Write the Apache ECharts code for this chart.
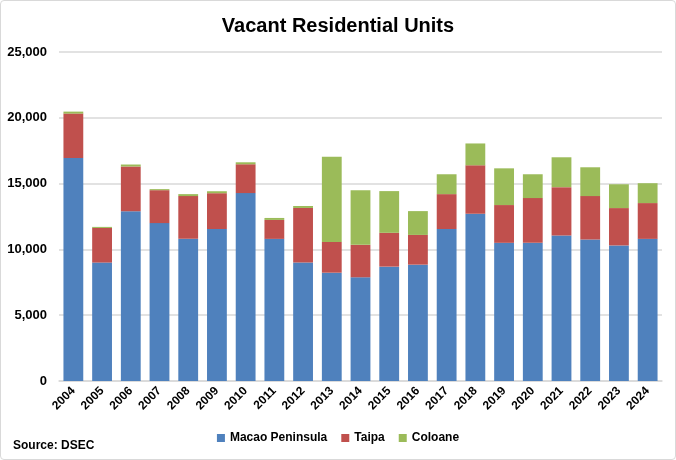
<!DOCTYPE html>
<html>
<head>
<meta charset="utf-8">
<script src="https://cdn.jsdelivr.net/npm/echarts@6/dist/echarts.min.js"></script>
<style>
  html, body { margin: 0; padding: 0; background: #fff; }
  #chart { width: 676px; height: 460px; box-sizing: border-box; border: 1px solid #d9d9d9; border-radius: 4px; }
</style>
</head>
<body>
<div id="chart"></div>
<script>
var years = ['2004', '2005', '2006', '2007', '2008', '2009', '2010', '2011', '2012', '2013', '2014',
    '2015', '2016', '2017', '2018', '2019', '2020', '2021', '2022', '2023', '2024'];
var macao = [16950, 9000, 12900, 12000, 10800, 11550, 14280, 10800, 9000, 8230, 7880,
    8690, 8840, 11550, 12710, 10500, 10500, 11050, 10750, 10300, 10800];
var taipa = [3370, 2630, 3400, 2500, 3250, 2720, 2190, 1440, 4150, 2340, 2470,
    2570, 2260, 2650, 3680, 2870, 3400, 3680, 3300, 2840, 2720];
var coloane = [150, 80, 150, 80, 150, 150, 150, 150, 150, 6470, 4150,
    3170, 1810, 1510, 1660, 2790, 1810, 2270, 2190, 1810, 1510];

var FONT = "'Liberation Sans', Arial, sans-serif";
var chart = echarts.init(document.getElementById('chart'));

function bar(name, data, color) {
    return {
        name: name,
        type: 'bar',
        stack: 'units',
        barWidth: '69%',
        itemStyle: { color: color },
        data: data
    };
}

chart.setOption({
    animation: false,
    textStyle: { fontFamily: FONT },
    title: {
        text: 'Vacant Residential Units',
        left: 'center',
        top: 10,
        textStyle: { fontSize: 20, fontWeight: 'bold', color: '#000', fontFamily: FONT }
    },
    graphic: [{
        type: 'text',
        left: 12,
        top: 439,
        style: { text: 'Source: DSEC', fontSize: 12, fontWeight: 'bold', fill: '#000', font: 'bold 12px ' + FONT }
    }],
    legend: {
        bottom: 10,
        left: 'center',
        itemWidth: 8,
        itemHeight: 8,
        itemGap: 14,
        icon: 'rect',
        textStyle: { fontSize: 12, fontWeight: 'bold', color: '#000', fontFamily: FONT }
    },
    grid: { left: 58, right: 13, top: 51, bottom: 78 },
    xAxis: {
        type: 'category',
        data: years,
        axisTick: { show: false },
        axisLine: { lineStyle: { color: '#d9d9d9', width: 1.5 } },
        axisLabel: { rotate: 45, fontSize: 12, fontWeight: 'bold', color: '#000', margin: 8, interval: 0 }
    },
    yAxis: {
        type: 'value',
        min: 0,
        max: 25000,
        interval: 5000,
        axisLine: { show: false },
        axisTick: { show: false },
        splitLine: { lineStyle: { color: '#d9d9d9', width: 1.5 } },
        axisLabel: {
            fontSize: 13, fontWeight: 'bold', color: '#000', margin: 12,
            formatter: function(v) { return v.toLocaleString('en-US'); }
        }
    },
    series: [
        bar('Macao Peninsula', macao, '#4F81BD'),
        bar('Taipa', taipa, '#C0504D'),
        bar('Coloane', coloane, '#9BBB59')
    ]
});
</script>
</body>
</html>
